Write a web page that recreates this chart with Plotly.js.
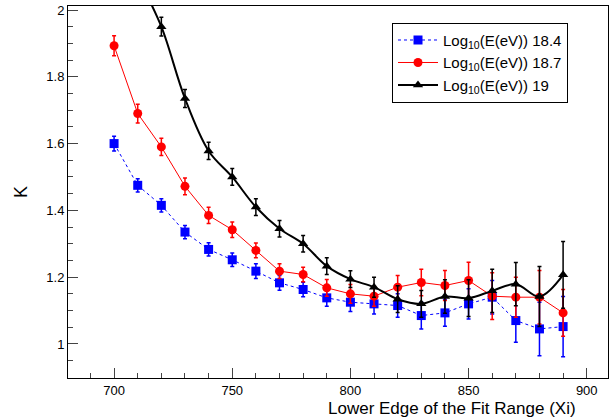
<!DOCTYPE html>
<html>
<head>
<script src="https://cdn.plot.ly/plotly-3.0.1.min.js"></script>
<style>body{margin:0;background:#fff}</style>
</head>
<body>
<div id="graph" style="width:611px;height:418px"></div>
<script>
var xi = [700,710,720,730,740,750,760,770,780,790,800,810,820,830,840,850,860,870,880,890];
var k184 = [1.600,1.475,1.415,1.335,1.283,1.252,1.218,1.183,1.163,1.138,1.125,1.120,1.115,1.085,1.093,1.120,1.140,1.070,1.045,1.052];
var e184 = [0.022,0.020,0.020,0.020,0.020,0.020,0.022,0.022,0.022,0.025,0.028,0.030,0.035,0.040,0.040,0.045,0.050,0.065,0.080,0.090];
var k187 = [1.893,1.690,1.590,1.472,1.385,1.342,1.280,1.218,1.208,1.168,1.150,1.143,1.170,1.184,1.175,1.190,1.143,1.140,1.140,1.093];
var e187 = [0.030,0.028,0.026,0.025,0.024,0.023,0.022,0.022,0.022,0.025,0.028,0.030,0.035,0.040,0.045,0.055,0.070,0.060,0.080,0.070];
var k19 = [2.250,2.100,1.950,1.735,1.578,1.500,1.410,1.345,1.300,1.233,1.194,1.170,1.134,1.120,1.142,1.137,1.159,1.179,1.142,1.207];
var e19 = [0.030,0.030,0.028,0.027,0.026,0.025,0.025,0.025,0.025,0.025,0.025,0.030,0.040,0.040,0.050,0.055,0.065,0.065,0.090,0.100];

function series(y, err, name, color, sym, dash, w, shape) {
    return {
        x: xi, y: y, name: name, mode: 'lines+markers',
        line: {color: color, width: w, dash: dash, shape: shape},
        marker: {color: color, symbol: sym, size: 9},
        error_y: {type: 'data', array: err, color: color, thickness: 1.5, width: 2}
    };
}

var data = [
    series(k184, e184, 'Log<sub>10</sub>(E(eV)) 18.4', '#0000ff', 'square', '3px,3px', 1, 'linear'),
    series(k187, e187, 'Log<sub>10</sub>(E(eV)) 18.7', '#ff0000', 'circle', 'solid', 1, 'linear'),
    series(k19, e19, 'Log<sub>10</sub>(E(eV)) 19', '#000000', 'triangle-up', 'solid', 2, 'spline')
];

var layout = {
    width: 611, height: 418,
    margin: {l: 68, r: 3, t: 6, b: 40},
    paper_bgcolor: '#fff', plot_bgcolor: '#fff',
    font: {family: 'Liberation Sans, Arial, sans-serif', size: 13, color: '#000'},
    showlegend: true,
    legend: {x: 0.6, y: 0.955, xanchor: 'left', yanchor: 'top', bordercolor: '#000', borderwidth: 1,
             bgcolor: '#fff', font: {size: 15}, tracegroupgap: 14, itemwidth: 40},
    xaxis: {range: [680.5, 909], showgrid: false, zeroline: false, showline: true, mirror: true,
            linecolor: '#000', linewidth: 1, ticks: 'inside', ticklen: 10, dtick: 50,
            minor: {ticks: 'inside', ticklen: 5, dtick: 10}},
    yaxis: {range: [0.898, 2.012], showgrid: false, zeroline: false, showline: true, mirror: true,
            linecolor: '#000', linewidth: 1, ticks: 'inside', ticklen: 10, dtick: 0.2,
            minor: {ticks: 'inside', ticklen: 5, dtick: 0.05},
            title: {text: 'K', font: {size: 18}, standoff: 14}},
    annotations: [{text: 'Lower Edge of the Fit Range (Xi)', xref: 'paper', yref: 'paper',
                   x: 0.945, y: -0.052, xanchor: 'right', yanchor: 'top', showarrow: false,
                   font: {size: 17}}]
};

Plotly.newPlot('graph', data, layout, {displayModeBar: false});
</script>
</body>
</html>
